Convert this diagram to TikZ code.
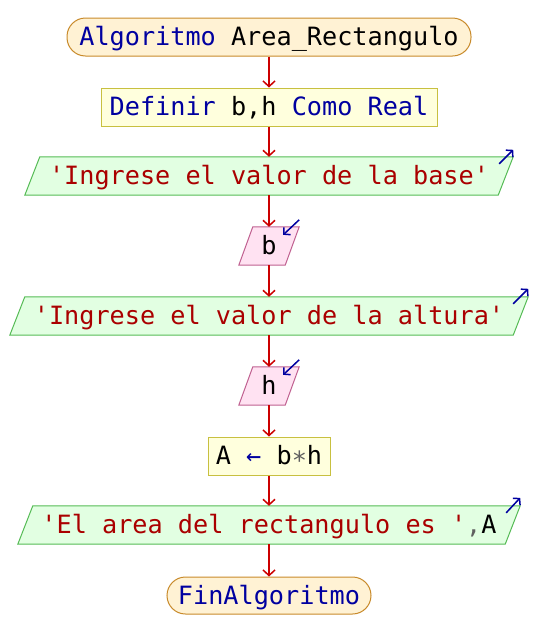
\documentclass[tikz,border=0pt]{standalone}
\usepackage{fontspec}
\setmonofont{DejaVu Sans Mono}
\usetikzlibrary{arrows.meta}
\pgfdeclarelayer{bg}
\pgfsetlayers{bg,main}
\definecolor{kw}{HTML}{0000A0}
\definecolor{strc}{HTML}{AA0000}
\definecolor{flowred}{HTML}{CC0000}
\definecolor{opgray}{HTML}{606060}
\definecolor{termfill}{HTML}{FFF2D4}
\definecolor{termdraw}{HTML}{C88A2A}
\definecolor{procfill}{HTML}{FFFFDD}
\definecolor{procdraw}{HTML}{C8C040}
\definecolor{iofill}{HTML}{E2FFE2}
\definecolor{iodraw}{HTML}{55BB55}
\definecolor{rdfill}{HTML}{FFE2F2}
\definecolor{rddraw}{HTML}{C06090}
\tikzset{
  base/.style={font=\fontsize{25.2}{30}\selectfont\ttfamily, inner sep=0pt, minimum height=38pt, text height=20pt, text depth=3pt},
  term/.style={base, draw=termdraw, fill=termfill, rounded corners=18.5pt, line width=1pt},
  proc/.style={base, draw=procdraw, fill=procfill, line width=1pt},
  iobox/.style={base},
  outshape/.style={draw=iodraw, fill=iofill, line width=1pt},
  inshape/.style={draw=rddraw, fill=rdfill, line width=1pt},
  flow/.style={draw=flowred, line width=1.5pt, -{Straight Barb[length=5.5pt,width=12pt]}},
  ioicon/.style={draw=kw, line width=1.5pt, -{Straight Barb[length=4.5pt,width=10pt]}},
}
\begin{document}
\begin{tikzpicture}[x=1pt,y=-1pt]
\useasboundingbox (0,0) rectangle (540,638);
\node[term, minimum width=404pt] (start) at (269,37) {\textcolor{kw}{Algoritmo} Area\_Rectangulo};
\node[proc, minimum width=336pt] (def) at (269,107) {\textcolor{kw}{Definir} b,h \textcolor{kw}{Como Real}};
\node[iobox, minimum width=488pt] (out1) at (269,176) {\textcolor{strc}{'Ingrese el valor de la base'}};
\node[iobox, minimum width=60pt] (rb) at (269,246) {b};
\node[iobox, minimum width=518pt] (out2) at (269,316) {\textcolor{strc}{'Ingrese el valor de la altura'}};
\node[iobox, minimum width=60pt] (rh) at (269,386) {h};
\node[proc, minimum width=122pt] (asg) at (269,456) {A \textcolor{kw}{←} b\textcolor{opgray}{∗}h};
\node[iobox, minimum width=502pt] (out3) at (269,525) {\textcolor{strc}{'El area del rectangulo es '}\textcolor{opgray}{,}A};
\node[term, minimum width=204pt, minimum height=37pt] (fin) at (269,595.5) {\textcolor{kw}{FinAlgoritmo}};
\begin{pgfonlayer}{bg}
\path[outshape] ([xshift=15pt]out1.north west) -- (out1.north east) -- ([xshift=-15pt]out1.south east) -- (out1.south west) -- cycle;
\path[outshape] ([xshift=15pt]out2.north west) -- (out2.north east) -- ([xshift=-15pt]out2.south east) -- (out2.south west) -- cycle;
\path[outshape] ([xshift=15pt]out3.north west) -- (out3.north east) -- ([xshift=-15pt]out3.south east) -- (out3.south west) -- cycle;
\path[inshape] ([xshift=14pt]rb.north west) -- (rb.north east) -- ([xshift=-14pt]rb.south east) -- (rb.south west) -- cycle;
\path[inshape] ([xshift=14pt]rh.north west) -- (rh.north east) -- ([xshift=-14pt]rh.south east) -- (rh.south west) -- cycle;
\end{pgfonlayer}
\draw[ioicon] ([xshift=-14pt,yshift=-7pt]out1.north east) -- ([yshift=7pt]out1.north east);
\draw[ioicon] ([xshift=-15pt,yshift=-7pt]out2.north east) -- ([yshift=8pt]out2.north east);
\draw[ioicon] ([xshift=-14pt,yshift=-7pt]out3.north east) -- ([yshift=8pt]out3.north east);
\draw[ioicon] ([yshift=7pt]rb.north east) -- ([xshift=-16pt,yshift=-8pt]rb.north east);
\draw[ioicon] ([yshift=7pt]rh.north east) -- ([xshift=-16pt,yshift=-8pt]rh.north east);
\draw[flow] (start) -- (def);
\draw[flow] (def) -- (out1);
\draw[flow] (out1) -- (rb);
\draw[flow] (rb) -- (out2);
\draw[flow] (out2) -- (rh);
\draw[flow] (rh) -- (asg);
\draw[flow] (asg) -- (out3);
\draw[flow] (out3) -- (fin);
\end{tikzpicture}
\end{document}
